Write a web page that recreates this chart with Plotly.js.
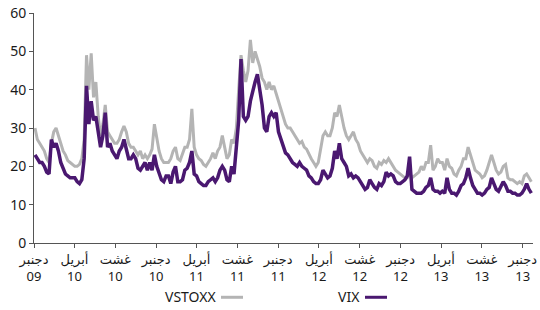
<!DOCTYPE html>
<html>
<head>
<meta charset="utf-8">
<script src="https://cdn.plot.ly/plotly-3.0.1.min.js"></script>
<style>html,body{margin:0;padding:0;background:#fff;}#chart{width:540px;height:310px;}</style>
</head>
<body>
<div id="chart"></div>
<script>
// Weekly readings (Fridays), starting 2009-12-04
const vix2009 = [23, 22, 21, 21];
const vix2010 = [20, 18.5, 18, 27, 25, 26, 24, 21, 19.5, 18, 17.5, 17, 17, 17, 16, 15.5, 16.5, 22,
  41, 31, 37, 32, 33, 29, 25, 28, 34, 25, 26, 24, 23, 22, 24, 25, 27, 24, 22, 22, 23,
  22, 19.5, 19, 20, 21, 19, 21, 19, 23, 20, 18, 16.5, 16, 17.5];
const vix2011 = [17.5, 15.5, 18.5, 20, 16, 16, 16.5, 19, 19.5, 21, 24, 18, 17.5, 16, 15.5, 15, 15,
  16, 16.5, 17, 16, 17, 19, 20, 19, 16.5, 16, 20, 18, 24, 32, 48, 33, 32,
  33, 37, 40, 42, 44, 40, 36, 30, 29, 33, 34, 33, 34, 29, 27, 25, 23.5, 23];
const vix2012 = [22, 21, 20.5, 20, 21, 20, 19.5, 19, 17.5, 17, 16, 15.5, 15.5, 16.5, 19, 18, 17,
  17.5, 19.5, 24, 22, 26, 22, 21, 20, 17.5, 18, 17, 17.5, 17, 16, 15, 14, 14.5, 16.5,
  15.5, 14.5, 14, 15.5, 15, 16, 18.5, 17.5, 18, 17.5, 16, 15.5, 15.5, 16, 16.5, 17.5, 22.5];
const vix2013 = [14, 13.5, 13, 13, 13, 13.5, 14.5, 15, 17, 14, 13.5, 13.5, 13, 13.5, 13, 17, 14,
  13, 13, 12.5, 13.5, 15, 15.5, 17, 19.5, 17, 15, 14, 13, 13, 12.5, 13, 14, 14.5, 17,
  15.5, 14, 13.5, 15, 16, 15, 13.5, 13.5, 13, 13, 12.5, 12.5, 13, 14, 15.5, 14, 13];

const vstoxx2009 = [30, 27, 26, 25];
const vstoxx2010 = [24, 22, 21, 26, 29, 30, 28, 26, 24, 23, 21.5, 21, 20.5, 20, 20, 20.5, 22, 27,
  49, 40, 49.5, 38, 42, 33, 28, 31, 36, 29, 28, 27, 26, 26, 27, 29, 30.5, 29, 26, 25, 25,
  24, 23, 24, 22, 23, 22, 23, 24.5, 31, 27, 24, 22, 21, 21];
const vstoxx2011 = [21, 22, 24, 25, 22, 21.5, 23, 25, 25, 27, 35, 25, 23, 22, 21.5, 20.5, 20,
  21, 22, 23.5, 22, 24, 25, 28, 25, 22, 23, 27, 26, 30, 40, 49, 45, 42,
  45, 53, 47, 50, 48, 46, 43, 42, 40, 42, 40, 41, 39, 37, 35, 33, 31, 30];
const vstoxx2012 = [30, 29, 28, 27, 26, 26.5, 25, 24.5, 23, 22, 21, 20, 21, 25, 28, 29, 28,
  28, 30, 34, 33, 36, 33, 30, 28, 27, 28, 29, 27, 26, 24, 23, 22, 21, 22,
  21.5, 20, 19.5, 21, 20.5, 21.5, 21, 22, 21, 20, 19, 18.5, 18, 17.5, 17, 17, 18.5];
const vstoxx2013 = [17, 17.5, 18, 18.5, 20, 19, 21, 21, 25.5, 19, 20, 22, 21, 21, 19, 22, 20,
  19.5, 18, 17.5, 19, 20, 22, 22, 25, 23, 21, 19, 18.5, 18, 17, 17.5, 19, 21, 23,
  21, 19, 18, 18.5, 20, 20.5, 17, 16.5, 16.5, 16, 15.5, 16, 15.5, 17.5, 18, 17, 16];

const tickDates = ['2009-12-01','2010-04-01','2010-08-01','2010-12-01','2011-04-01','2011-08-01',
  '2011-12-01','2012-04-01','2012-08-01','2012-12-01','2013-04-01','2013-08-01','2013-12-01'];
const tickMonths = ['دجنبر','أبريل','غشت','دجنبر','أبريل','غشت','دجنبر','أبريل','غشت','دجنبر','أبريل','غشت','دجنبر'];
const tickYears = ['09','10','10','10','11','11','11','12','12','12','13','13','13'];
const seriesNames = ['VSTOXX', 'VIX'];

const vix = [].concat(vix2009, vix2010, vix2011, vix2012, vix2013);
const vstoxx = [].concat(vstoxx2009, vstoxx2010, vstoxx2011, vstoxx2012, vstoxx2013);
const start = Date.UTC(2009, 11, 4);
const dates = vix.map((_, i) => new Date(start + i * 7 * 86400000).toISOString().slice(0, 10));

const GRAY = '#b4b4b4', PURPLE = '#4a1870';
const font = "'Noto Sans', 'DejaVu Sans', sans-serif";

const traces = [
  {x: dates, y: vstoxx, type: 'scatter', mode: 'lines', name: seriesNames[0],
   line: {color: GRAY, width: 3}},
  {x: dates, y: vix, type: 'scatter', mode: 'lines', name: seriesNames[1],
   line: {color: PURPLE, width: 3.5}}
];

const layout = {
  width: 540, height: 310,
  margin: {l: 34, r: 7, t: 13, b: 67},
  paper_bgcolor: '#fff', plot_bgcolor: '#fff',
  showlegend: false,
  font: {family: font, color: '#1a1a1a', size: 13},
  xaxis: {
    type: 'date', range: ['2009-12-01', '2014-01-01'],
    tickmode: 'array', tickvals: tickDates,
    ticktext: tickMonths.map((m, i) => m + '<br>' + tickYears[i]),
    showgrid: false, zeroline: false,
    showline: true, linecolor: '#555', linewidth: 1,
    ticks: 'outside', ticklen: 4, tickcolor: '#555',
    tickfont: {size: 13, family: font, color: '#1a1a1a'},
    tickangle: 0
  },
  yaxis: {
    range: [0, 60], dtick: 10, tick0: 0,
    showgrid: false, zeroline: false,
    showline: true, linecolor: '#555', linewidth: 1,
    ticks: 'outside', ticklen: 4, tickcolor: '#555',
    tickfont: {size: 14, family: font, color: '#1a1a1a'}
  },
  annotations: [
    {xref: 'paper', yref: 'paper', x: (218 - 34) / 499, y: -0.233, xanchor: 'right', yanchor: 'middle',
     text: seriesNames[0], showarrow: false, font: {size: 14, family: font, color: '#1a1a1a'}},
    {xref: 'paper', yref: 'paper', x: (362 - 34) / 499, y: -0.233, xanchor: 'right', yanchor: 'middle',
     text: seriesNames[1], showarrow: false, font: {size: 14, family: font, color: '#1a1a1a'}}
  ],
  shapes: [
    {type: 'line', xref: 'paper', yref: 'paper', x0: (221 - 34) / 499, x1: (243 - 34) / 499,
     y0: -0.236, y1: -0.236, line: {color: GRAY, width: 3}},
    {type: 'line', xref: 'paper', yref: 'paper', x0: (365 - 34) / 499, x1: (387 - 34) / 499,
     y0: -0.236, y1: -0.236, line: {color: PURPLE, width: 3}}
  ]
};

Plotly.newPlot('chart', traces, layout, {displayModeBar: false, staticPlot: true});
</script>
</body>
</html>
